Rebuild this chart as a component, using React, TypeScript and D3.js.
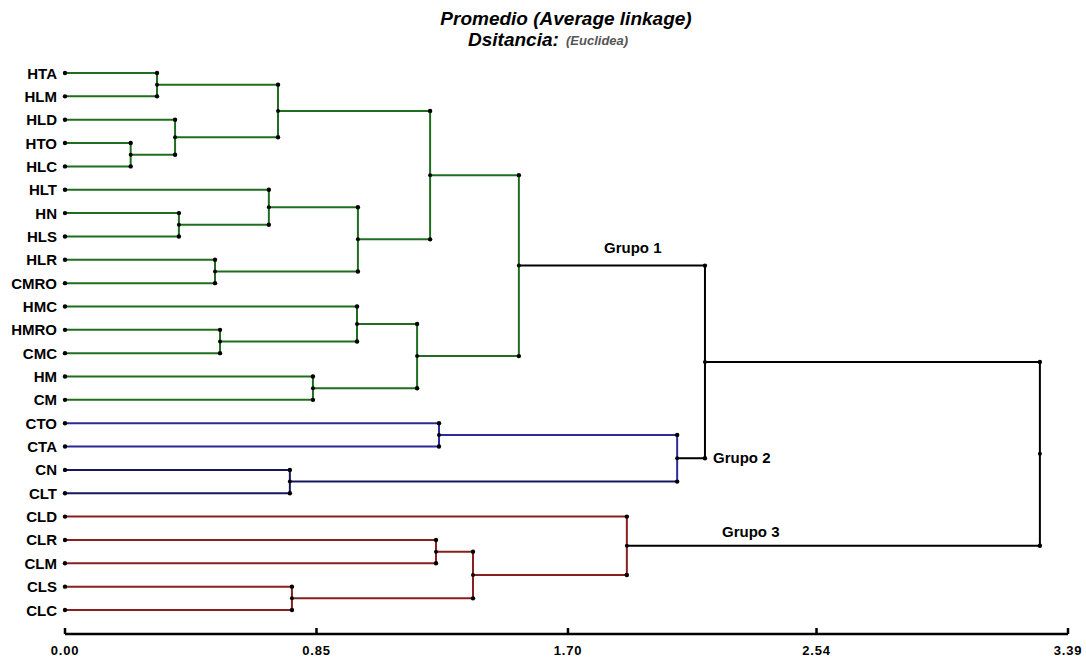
import React from "react";
import * as d3 from "d3";

const leaves = ["HTA","HLM","HLD","HTO","HLC","HLT","HN","HLS","HLR","CMRO","HMC","HMRO","CMC","HM","CM","CTO","CTA","CN","CLT","CLD","CLR","CLM","CLS","CLC"];

// [node id, left child, right child, distance]
const merges: [string, string, string, number][] = [
  ["a","HTA","HLM",0.311],
  ["b","HTO","HLC",0.222],
  ["c","HLD","b",0.372],
  ["d","a","c",0.720],
  ["e","HN","HLS",0.385],
  ["f","HLT","e",0.689],
  ["g","HLR","CMRO",0.507],
  ["h","f","g",0.990],
  ["i","d","h",1.234],
  ["j","HMRO","CMC",0.524],
  ["k","HMC","j",0.987],
  ["l","HM","CM",0.838],
  ["m","k","l",1.190],
  ["G1","i","m",1.534],
  ["n","CTO","CTA",1.264],
  ["o","CN","CLT",0.760],
  ["G2","n","o",2.069],
  ["p","CLR","CLM",1.254],
  ["q","CLS","CLC",0.767],
  ["r","p","q",1.379],
  ["G3","CLD","r",1.899],
  ["s","G1","G2",2.163],
  ["root","s","G3",3.295],
];

const groupRoots = ["G1","G2","G3"];
const groupLabels = ["Grupo 1","Grupo 2","Grupo 3"];
const groupColors = ["#1f6e1f","#2b2b98","#8a1f1f"];
const darkBlueNodes = ["o","CN","CLT"];
const tickValues = [0, 0.85, 1.70, 2.54, 3.39];

type N = { id: string; x: number; y: number; children?: N[]; color: string; isGroupRoot: boolean };

function build() {
  const yScale = d3.scaleLinear().domain([0, leaves.length - 1]).range([73, 610]);
  const xScale = d3.scaleLinear().domain([0, 3.39]).range([65, 1068]);
  const nodes: Record<string, N> = {};
  leaves.forEach((l, i) => {
    nodes[l] = { id: l, x: xScale(0), y: yScale(i), color: "#000", isGroupRoot: false };
  });
  merges.forEach(([id, a, b, h]) => {
    const ca = nodes[a], cb = nodes[b];
    nodes[id] = { id, x: xScale(h), y: (ca.y + cb.y) / 2, children: [ca, cb], color: "#000", isGroupRoot: groupRoots.includes(id) };
  });
  const setColor = (n: N, c: string) => {
    n.color = darkBlueNodes.includes(n.id) ? "#17175e" : c;
    n.children?.forEach((ch) => setColor(ch, c));
  };
  groupRoots.forEach((g, i) => setColor(nodes[g], groupColors[i]));
  return { root: nodes["root"], nodes, xScale };
}

export default function App() {
  const { root, nodes, xScale } = build();
  const hier = d3.hierarchy<N>(root, (d) => d.children);
  const lines: JSX.Element[] = [];
  const dots: JSX.Element[] = [];
  hier.each((hn) => {
    const n = hn.data;
    if (n.children) {
      const [c1, c2] = n.children;
      lines.push(<line key={"v" + n.id} x1={n.x} x2={n.x} y1={c1.y} y2={c2.y} stroke={n.color} strokeWidth={2} />);
      n.children.forEach((c) => {
        const col = c.isGroupRoot ? "#000" : c.color;
        lines.push(<line key={"h" + c.id} x1={c.x} x2={n.x} y1={c.y} y2={c.y} stroke={col} strokeWidth={2} />);
        dots.push(<circle key={"dc" + c.id} cx={n.x} cy={c.y} r={2.2} fill="#000" />);
      });
      dots.push(<circle key={"dn" + n.id} cx={n.x} cy={n.y} r={2} fill="#000" />);
    } else {
      dots.push(<circle key={"dl" + n.id} cx={n.x} cy={n.y} r={2.2} fill="#000" />);
    }
  });

  const axisY = 634;
  return (
    <svg width={1086} height={658} style={{ position: "absolute", left: 0, top: 0, background: "#fff" }} fontFamily="Liberation Sans, Arial, sans-serif">
      <text x={566} y={25} textAnchor="middle" fontSize={19} fontWeight="bold" fontStyle="italic">Promedio (Average linkage)</text>
      <text x={468} y={46} fontSize={19} fontWeight="bold" fontStyle="italic">Dsitancia:</text>
      <text x={566} y={45} fontSize={13} fontWeight="bold" fontStyle="italic" fill="#555">(Euclidea)</text>
      {lines}
      {dots}
      {leaves.map((l) => (
        <text key={"t" + l} x={57} y={nodes[l].y + 5.5} textAnchor="end" fontSize={15} fontWeight="bold">{l}</text>
      ))}
      <text x={604} y={253} fontSize={15} fontWeight="bold">{groupLabels[0]}</text>
      <text x={713} y={463} fontSize={15} fontWeight="bold">{groupLabels[1]}</text>
      <text x={722} y={537} fontSize={15} fontWeight="bold">{groupLabels[2]}</text>
      <line x1={xScale(0)} x2={xScale(3.39)} y1={axisY} y2={axisY} stroke="#000" strokeWidth={2.5} />
      {tickValues.map((t) => (
        <g key={"tk" + t}>
          <line x1={xScale(t)} x2={xScale(t)} y1={axisY} y2={axisY - 6} stroke="#000" strokeWidth={2.5} />
          <text x={xScale(t)} y={655} textAnchor="middle" fontSize={13} letterSpacing={0.8} fontWeight="bold">{t.toFixed(2)}</text>
        </g>
      ))}
    </svg>
  );
}
